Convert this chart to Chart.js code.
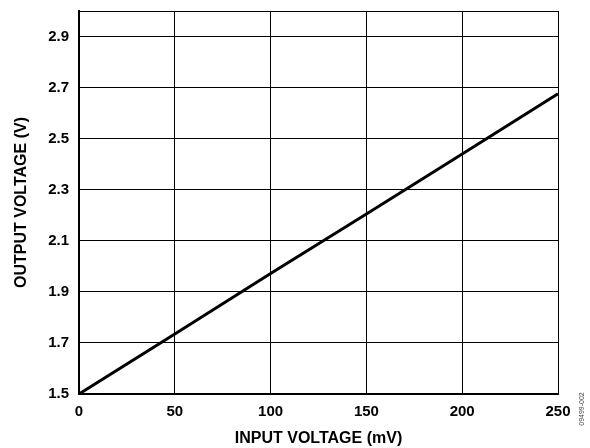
<!DOCTYPE html>
<html>
<head>
<meta charset="utf-8">
<script src="https://cdn.jsdelivr.net/npm/chart.js@4/dist/chart.umd.min.js"></script>
<style>
  html, body { margin: 0; padding: 0; background: #fff; }
  #wrap { width: 590px; height: 448px; }
</style>
</head>
<body>
<div id="wrap"><canvas id="grafico"></canvas></div>
<script>
// values
const entrada = [0, 50, 100, 150, 200, 250]            // mV
const saida = [1.50, 1.735, 1.972, 2.205, 2.44, 2.676] // V
const ticksY = [1.5, 1.7, 1.9, 2.1, 2.3, 2.5, 2.7, 2.9]

const fonte = "'Liberation Sans', Arial, sans-serif"

const carimbo = {
    id: "carimbo",
    afterDraw(chart) {
        const ctx = chart.ctx
        ctx.save()
        ctx.translate(582, 409)
        ctx.rotate(-Math.PI / 2)
        ctx.font = "7px " + fonte
        ctx.fillStyle = "#444"
        ctx.textAlign = "center"
        ctx.textBaseline = "middle"
        ctx.fillText("09499-002", 0, 0)
        ctx.restore()
    }
}

new Chart(document.getElementById("grafico"), {
    type: "line",
    data: {
        datasets: [{
            data: entrada.map((x, i) => ({ x: x, y: saida[i] })),
            borderColor: "#000000",
            borderWidth: 3,
            pointRadius: 0,
            tension: 0
        }]
    },
    options: {
        responsive: true,
        maintainAspectRatio: false,
        animation: false,
        layout: { padding: { left: 0, right: 32, top: 11, bottom: 0 } },
        plugins: { legend: { display: false }, tooltip: { enabled: false } },
        scales: {
            x: {
                type: "linear",
                min: 0,
                max: 250,
                afterFit: (s) => { s.height = 54 },
                ticks: {
                    stepSize: 50,
                    color: "#000",
                    padding: 9,
                    maxRotation: 0,
                    font: { family: fonte, size: 15, weight: "bold" }
                },
                grid: { color: "#000", lineWidth: 1, drawTicks: false },
                border: { color: "#000", width: 2 },
                title: {
                    display: true,
                    text: "INPUT VOLTAGE (mV)",
                    color: "#000",
                    padding: { top: 0, bottom: 0 },
                    font: { family: fonte, size: 16, weight: "bold" }
                }
            },
            y: {
                min: 1.5,
                max: 3.0,
                afterFit: (s) => {
                    s.width = 79
                    s.paddingTop = 0
                    s.paddingBottom = 0
                },
                afterBuildTicks: (s) => {
                    s.ticks = ticksY.map((v) => ({ value: v })).concat([{ value: 3.0 }])
                },
                ticks: {
                    color: "#000",
                    padding: 10,
                    callback: (v) => ticksY.includes(Math.round(v * 10) / 10) ? v.toFixed(1) : "",
                    font: { family: fonte, size: 15, weight: "bold" }
                },
                grid: { color: "#000", lineWidth: 1, drawTicks: false },
                border: { color: "#000", width: 2 },
                title: {
                    display: true,
                    text: "OUTPUT VOLTAGE (V)",
                    color: "#000",
                    padding: { top: 12, bottom: 0 },
                    font: { family: fonte, size: 16, weight: "bold" }
                }
            }
        }
    },
    plugins: [carimbo]
});
</script>
</body>
</html>
